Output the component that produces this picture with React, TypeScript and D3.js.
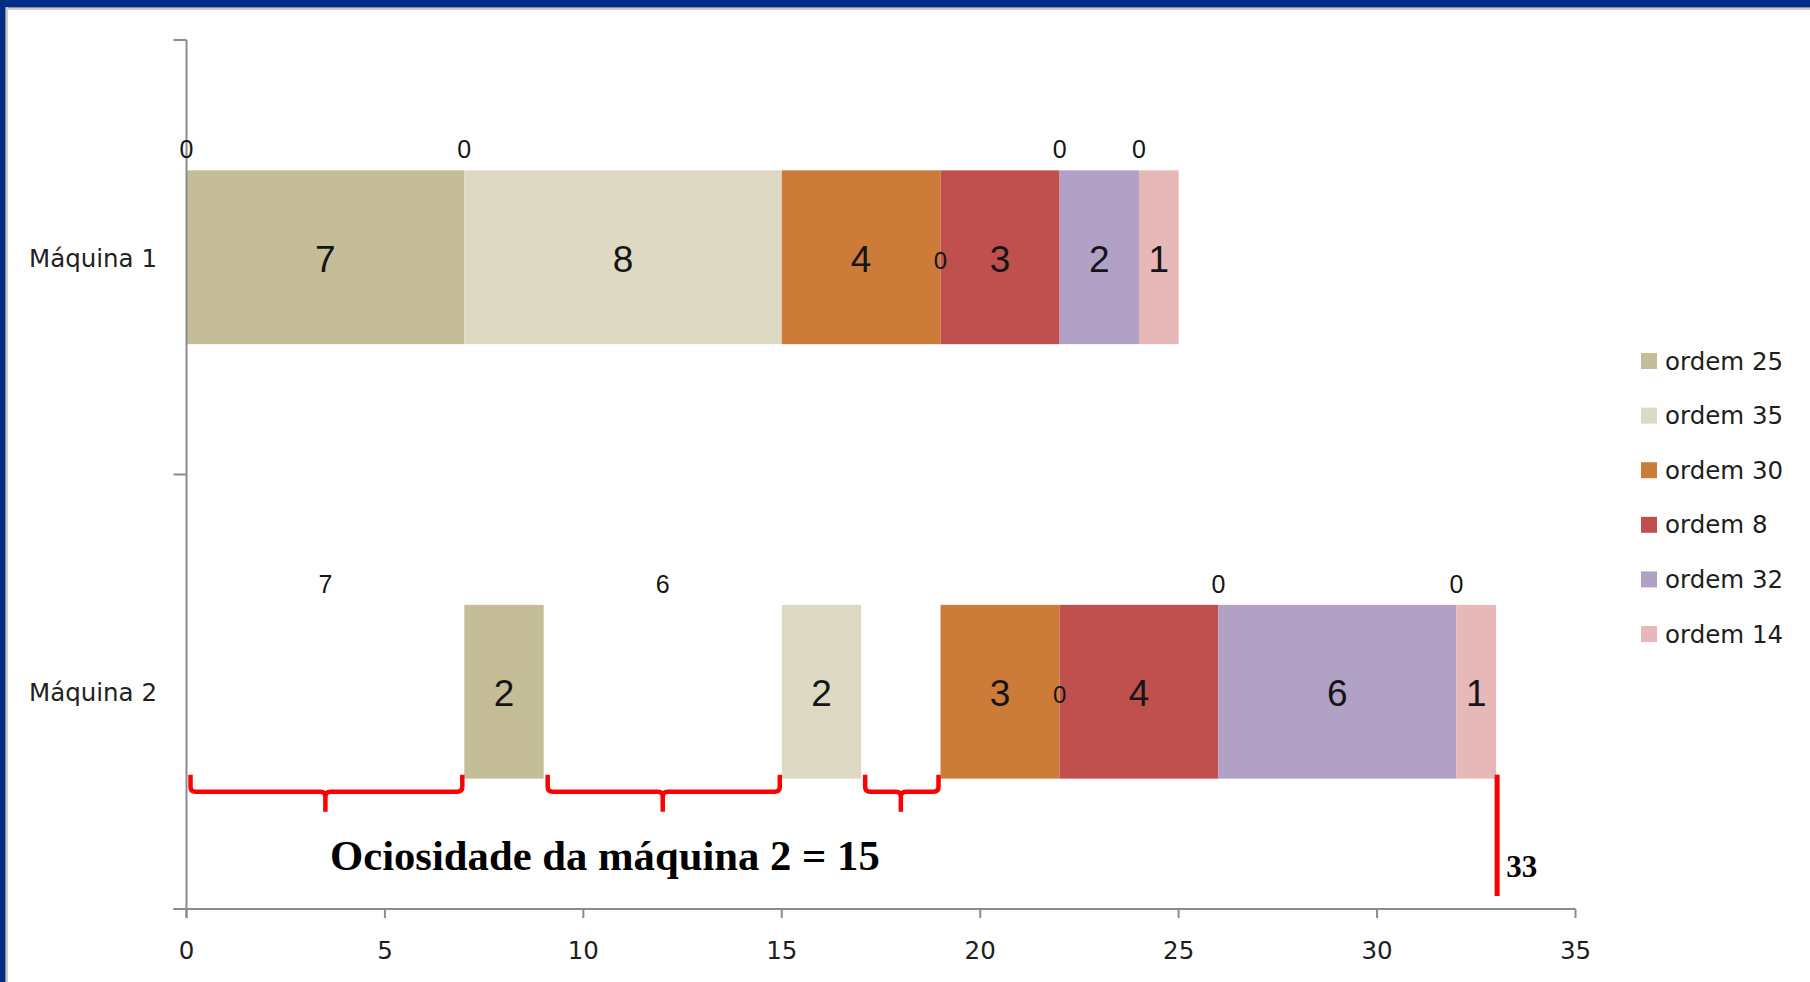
import React from "react";
import * as d3 from "d3";

const machines = ["Máquina 1", "Máquina 2"];
const orders = ["ordem 25", "ordem 35", "ordem 30", "ordem 8", "ordem 32", "ordem 14"];
const orderColors = ["#C4BD97", "#DDD9C3", "#CC7B38", "#C0504D", "#B2A1C7", "#E6B9B8"];
// processing time per order, in the order above
const durations1 = [7, 8, 4, 3, 2, 1];
const durations2 = [2, 2, 3, 4, 6, 1];
// idle (waiting) time before each order
const waits1 = [0, 0, 0, 0, 0, 0];
const waits2 = [7, 6, 2, 0, 0, 0];
// how each waiting segment's label is shown
const waitLabelModes = ["above", "above", "none", "inside", "above", "above"];
const xTicks = [0, 5, 10, 15, 20, 25, 30, 35];
const idleText = "Ociosidade da máquina 2 = 15";
const makespanText = "33";

const W = 1810;
const H = 982;
const SANS = "'DejaVu Sans', Verdana, sans-serif";
const LBL = "'Liberation Sans', Arial, sans-serif";
const SERIF = "'Liberation Serif', 'Times New Roman', serif";

function schedule(durations: number[], waits: number[]) {
  let t = 0;
  const segs: { order: number; start: number; end: number; waitStart: number; wait: number }[] = [];
  durations.forEach((d, i) => {
    const waitStart = t;
    t += waits[i];
    segs.push({ order: i, start: t, end: t + d, waitStart, wait: waits[i] });
    t += d;
  });
  return segs;
}

export default function App() {
  const x = d3.scaleLinear().domain([0, 35]).range([186.5, 1575.5]);
  const y = d3.scaleBand<string>().domain(machines).range([40, 909]).paddingInner(0.6).paddingOuter(0.3);
  const bw = y.bandwidth();
  const step = y.step();
  const plotTop = 40;
  const plotBottom = 909;
  const axisX = x(0);

  const data = [schedule(durations1, waits1), schedule(durations2, waits2)];
  const m2 = data[1];
  const m2y = y(machines[1])!;
  const braceTop = m2y + bw - 4;
  const braceMid = braceTop + 17;
  const braceTip = braceMid + 20;
  const catBounds = d3.range(machines.length + 1).map((i) => plotTop + i * step);

  return (
    <svg width={W} height={H} style={{ position: "absolute", left: 0, top: 0, background: "#fff" }}>
      <rect x={0} y={0} width={W} height={H} fill="#fff" />
      {/* frame */}
      <rect x={0} y={7} width={W} height={1.5} fill="#8a8a8a" />
      <rect x={0} y={8.5} width={W} height={1.5} fill="#d0d0d0" />
      <rect x={5} y={0} width={1.5} height={H} fill="#8a8a8a" />
      <rect x={6.5} y={0} width={1.5} height={H} fill="#d0d0d0" />
      <rect x={0} y={0} width={W} height={7} fill="#012d88" />
      <rect x={0} y={0} width={5} height={H} fill="#012d88" />

      {/* bars */}
      {data.map((segs, mi) => {
        const by = y(machines[mi])!;
        return (
          <g key={mi}>
            {segs.map((s) => (
              <rect key={s.order} x={x(s.start)} y={by} width={x(s.end) - x(s.start)} height={bw} fill={orderColors[s.order]} />
            ))}
          </g>
        );
      })}

      {/* axes */}
      <g stroke="#8c8c8c" strokeWidth={2} fill="none">
        <line x1={axisX} x2={axisX} y1={plotTop} y2={plotBottom + 9} />
        <line x1={axisX - 13} x2={x(35)} y1={plotBottom} y2={plotBottom} />
        {catBounds.map((cy, i) => (
          <line key={i} x1={axisX - 13} x2={axisX} y1={cy} y2={cy} />
        ))}
        {xTicks.map((t) => (
          <line key={t} x1={x(t)} x2={x(t)} y1={plotBottom} y2={plotBottom + 9} />
        ))}
      </g>
      {xTicks.map((t) => (
        <text key={t} x={x(t)} y={950} textAnchor="middle" dominantBaseline="central" fontFamily={SANS} fontSize={24.5} fill="#1e1e1e">
          {t}
        </text>
      ))}
      {machines.map((m) => (
        <text key={m} x={157} y={y(m)! + bw / 2 + 1} textAnchor="end" dominantBaseline="central" fontFamily={SANS} fontSize={24.5} fill="#222">
          {m}
        </text>
      ))}

      {/* labels */}
      {data.map((segs, mi) => {
        const by = y(machines[mi])!;
        return (
          <g key={mi} fontFamily={LBL} fill="#151515">
            {segs.map((s) => (
              <text key={"d" + s.order} x={x((s.start + s.end) / 2)} y={by + bw / 2 + 2} textAnchor="middle" dominantBaseline="central" fontSize={37}>
                {s.end - s.start}
              </text>
            ))}
            {segs.map((s) => {
              const mode = waitLabelModes[s.order];
              if (mode === "none") return null;
              const cx = x(s.waitStart + s.wait / 2);
              const cy = mode === "above" ? by - 21 : by + bw / 2 + 3;
              return (
                <text key={"w" + s.order} x={cx} y={cy} textAnchor="middle" dominantBaseline="central" fontSize={mode === "above" ? 25 : 24}>
                  {s.wait}
                </text>
              );
            })}
          </g>
        );
      })}

      {/* idle braces */}
      <g stroke="#ff0000" strokeWidth={4.5} fill="none" strokeLinejoin="round">
        {m2
          .filter((s) => s.wait > 0)
          .map((s) => {
            const x0 = x(s.waitStart) + 4;
            const x1 = x(s.start) - 2;
            const xm = x(s.waitStart + s.wait / 2);
            const r = 5;
            const p = `M${x0},${braceTop} L${x0},${braceMid - r} Q${x0},${braceMid} ${x0 + r},${braceMid} L${xm - r},${braceMid} Q${xm},${braceMid} ${xm},${braceMid + r} L${xm},${braceTip} M${xm},${braceMid + r} Q${xm},${braceMid} ${xm + r},${braceMid} L${x1 - r},${braceMid} Q${x1},${braceMid} ${x1},${braceMid - r} L${x1},${braceTop}`;
            return <path key={s.order} d={p} />;
          })}
      </g>
      {(() => {
        const end = m2[m2.length - 1].end;
        return (
          <g>
            <line x1={x(end) + 1} x2={x(end) + 1} y1={braceTop} y2={896} stroke="#ff0000" strokeWidth={5} />
            <text x={x(end) + 10} y={877} fontFamily={SERIF} fontWeight="bold" fontSize={31} fill="#000">
              {makespanText}
            </text>
          </g>
        );
      })()}
      <text x={330} y={870} fontFamily={SERIF} fontWeight="bold" fontSize={42.7} fill="#000">
        {idleText}
      </text>

      {/* legend */}
      {orders.map((o, i) => {
        const cy = 361 + i * 54.6;
        return (
          <g key={o}>
            <rect x={1641} y={cy - 8} width={16} height={16} fill={orderColors[i]} />
            <text x={1665} y={cy} dominantBaseline="central" fontFamily={SANS} fontSize={24.5} fill="#1e1e1e">
              {o}
            </text>
          </g>
        );
      })}
    </svg>
  );
}
